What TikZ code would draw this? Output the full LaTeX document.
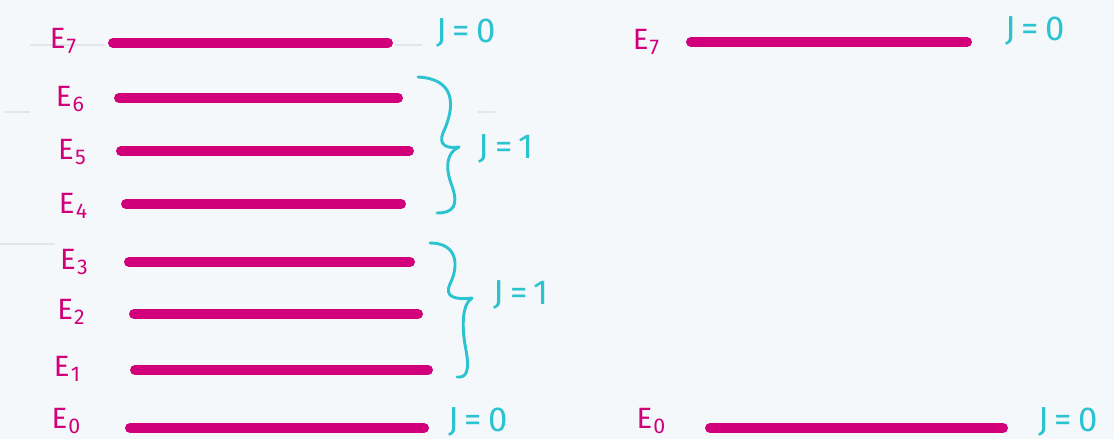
\documentclass[tikz,border=0pt]{standalone}
\usepackage{fontspec}
\setmainfont{Fira Sans}
\definecolor{mag}{HTML}{D1007A}
\definecolor{cy}{HTML}{2CC3D1}
\definecolor{bg}{HTML}{F5F8FB}
\definecolor{guide}{HTML}{E2E6EA}
\newcommand{\elev}[1]{E\kern0.04em\raisebox{-0.18em}{\fontsize{16}{16}\selectfont #1}}
\tikzset{
  level/.style={line width=7.5pt, line cap=round, draw=mag},
  elabel/.style={text=mag, inner sep=0pt, font=\fontsize{22}{22}\selectfont},
  jlabel/.style={text=cy, inner sep=0pt, font=\fontsize{26}{26}\selectfont},
  jbrace/.style={draw=cy, line width=2.2pt, line cap=round, line join=round},
  guideline/.style={draw=guide, line width=0.8pt}
}
\begin{document}
\begin{tikzpicture}[x=0.75pt, y=-0.75pt]
\fill[bg] (0,0) rectangle (1114,439);
\useasboundingbox (0,0) rectangle (1114,439);
% faint guides
\coordinate (g1a) at (30,45); \coordinate (g1b) at (105,45);
\coordinate (g2a) at (395,45); \coordinate (g2b) at (422,45);
\coordinate (g3a) at (5,112); \coordinate (g3b) at (30,112);
\coordinate (g4a) at (478,112); \coordinate (g4b) at (495,112);
\coordinate (g5a) at (0,244); \coordinate (g5b) at (55,244);
\draw[guideline] (g1a) -- (g1b);
\draw[guideline] (g2a) -- (g2b);
\draw[guideline] (g3a) -- (g3b);
\draw[guideline] (g4a) -- (g4b);
\draw[guideline] (g5a) -- (g5b);
% level end points
\coordinate (a7) at (113,43); \coordinate (b7) at (388,43);
\coordinate (a6) at (119,98); \coordinate (b6) at (398,98);
\coordinate (a5) at (121,151); \coordinate (b5) at (409,151);
\coordinate (a4) at (126,204); \coordinate (b4) at (401,204);
\coordinate (a3) at (129,262); \coordinate (b3) at (410,262);
\coordinate (a2) at (134,314); \coordinate (b2) at (418,314);
\coordinate (a1) at (135,370); \coordinate (b1) at (428,370);
\coordinate (a0) at (130,428); \coordinate (b0) at (424,428);
\coordinate (ra7) at (691,42); \coordinate (rb7) at (967,42);
\coordinate (ra0) at (710,428); \coordinate (rb0) at (1003,428);
\foreach \i in {7,6,5,4,3,2,1,0} { \draw[level] (a\i) -- (b\i); }
\draw[level] (ra7) -- (rb7);
\draw[level] (ra0) -- (rb0);
% energy labels
\node[elabel] (e7) at (63,41) {\elev{7}};
\node[elabel] (e6) at (70,99) {\elev{6}};
\node[elabel] (e5) at (72,152) {\elev{5}};
\node[elabel] (e4) at (73,206) {\elev{4}};
\node[elabel] (e3) at (74,262) {\elev{3}};
\node[elabel] (e2) at (71,312) {\elev{2}};
\node[elabel] (e1) at (67,369) {\elev{1}};
\node[elabel] (e0) at (66,421) {\elev{0}};
\node[elabel] (re7) at (646,42) {\elev{7}};
\node[elabel] (re0) at (651,421) {\elev{0}};
% braces (hand-drawn style)
\coordinate (br1t) at (418,77); \coordinate (br1m) at (459,147); \coordinate (br1b) at (437,213);
\coordinate (br2t) at (430,243); \coordinate (br2m) at (472,298); \coordinate (br2b) at (457,377);
\draw[jbrace] (br1t) .. controls (455,79) and (456,105) .. (443,133)
  .. controls (438,145) and (447,149) .. (br1m)
  .. controls (446,153) and (445,168) .. (452,186)
  .. controls (459,206) and (453,213) .. (br1b);
\draw[jbrace] (br2t) .. controls (458,243) and (459,266) .. (450,284)
  .. controls (444,297) and (455,300) .. (br2m)
  .. controls (461,305) and (462,330) .. (466,350)
  .. controls (470,372) and (466,378) .. (br2b);
% J labels
\node[jlabel] (j7) at (466,33) {J\,=\,0};
\node[jlabel] (j654) at (506,149) {J\,=\,1};
\node[jlabel] (j321) at (521,295) {J\,=\,1};
\node[jlabel] (j0) at (478,422) {J\,=\,0};
\node[jlabel] (rj7) at (1035,31) {J\,=\,0};
\node[jlabel] (rj0) at (1068,422) {J\,=\,0};
\end{tikzpicture}
\end{document}
